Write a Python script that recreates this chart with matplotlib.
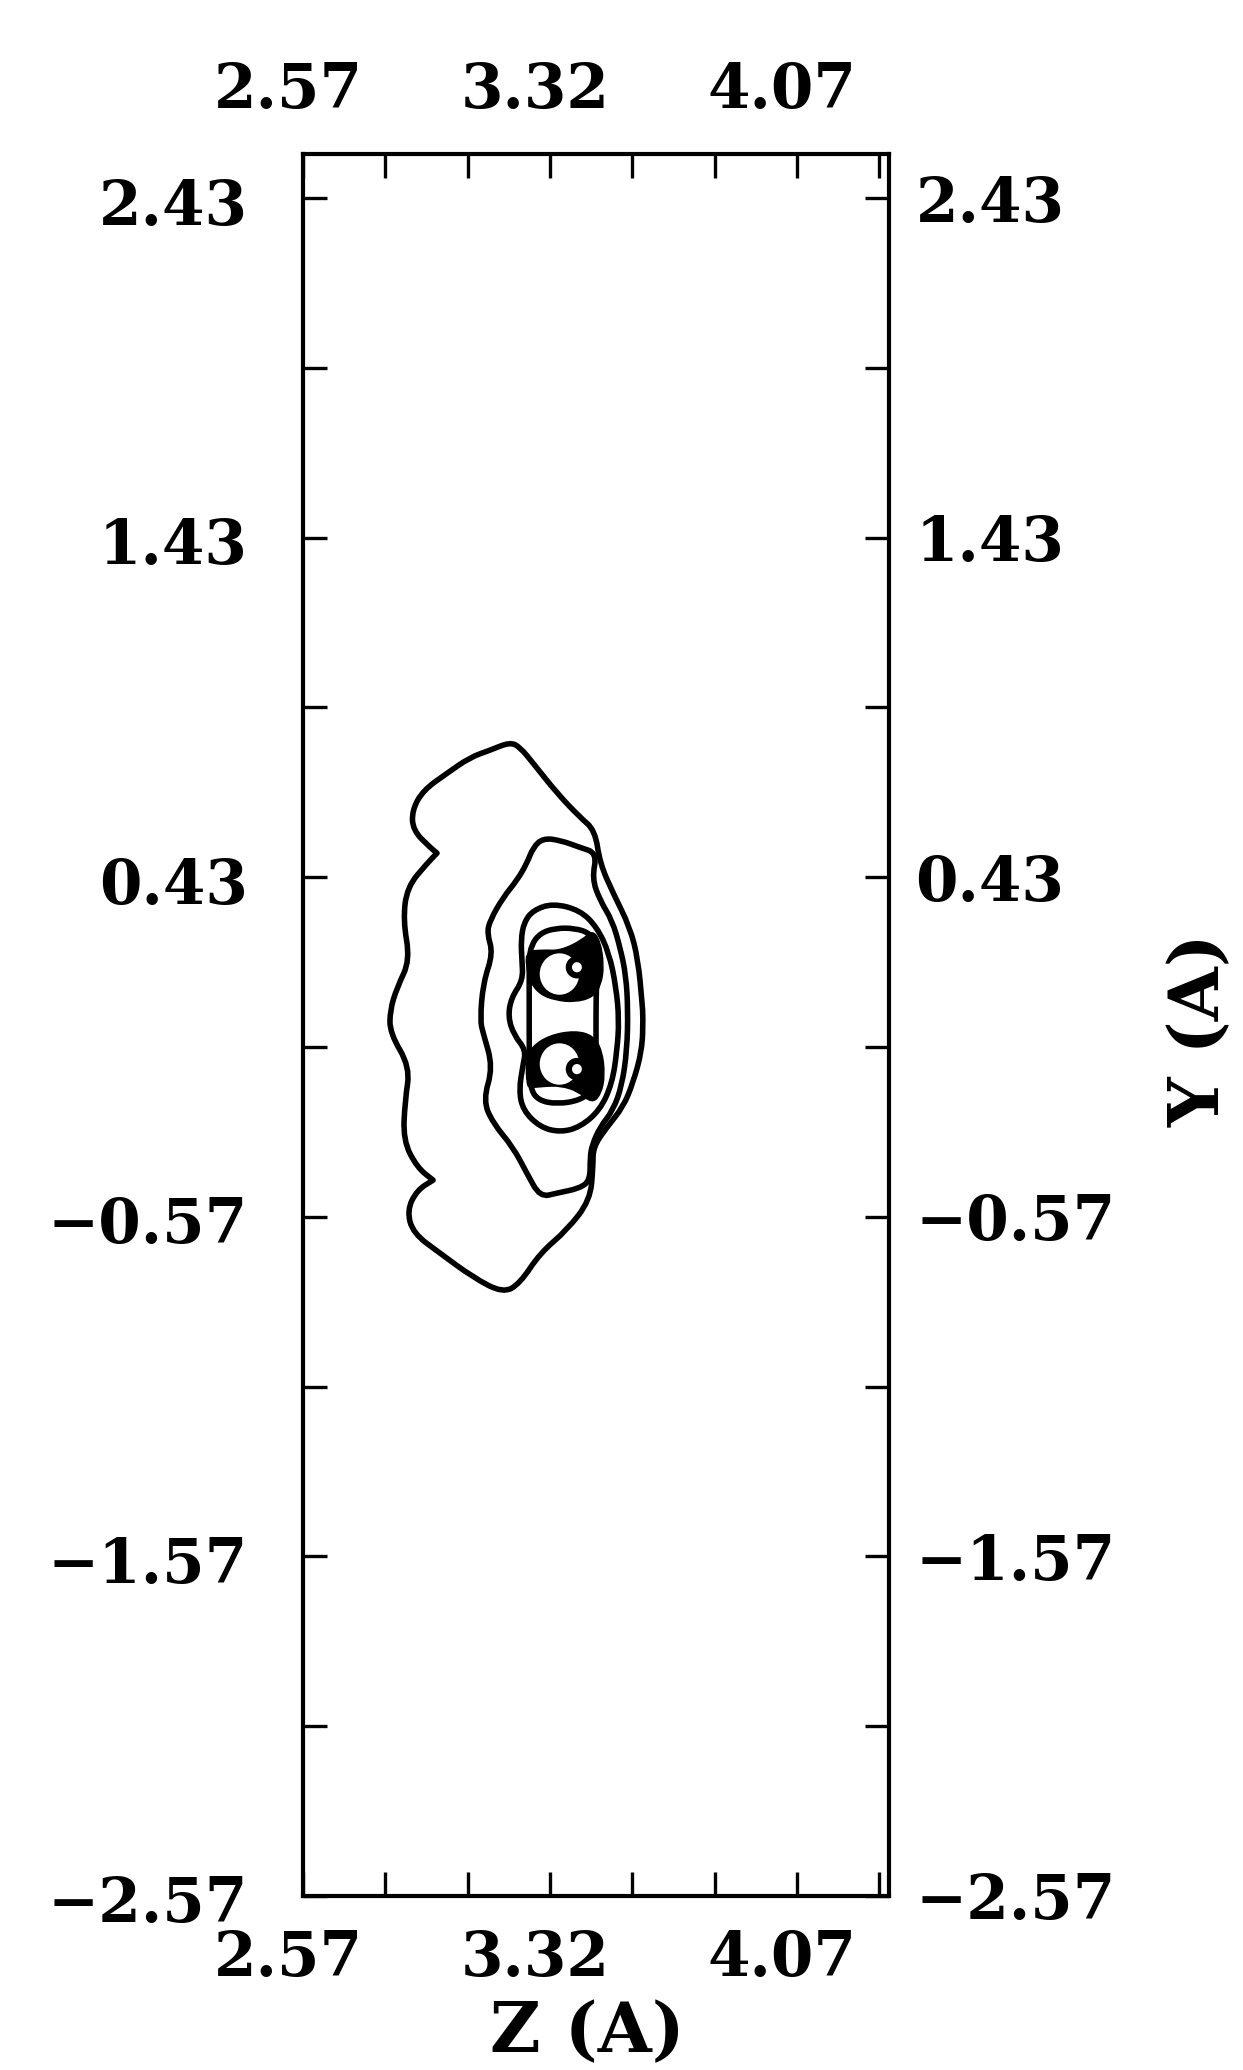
import numpy as np
import matplotlib.pyplot as plt
import matplotlib.transforms as mtrans
from matplotlib.patches import Ellipse, PathPatch
from matplotlib.path import Path
from matplotlib.ticker import FixedLocator, FixedFormatter

# contour lines, Z and Y in Angstrom
outer_z = [3.199, 3.229, 3.269, 3.342, 3.411, 3.457, 3.472, 3.512, 3.563, 3.588,
           3.600, 3.603, 3.600, 3.572, 3.542, 3.493, 3.451, 3.451, 3.442, 3.372,
           3.290, 3.229, 3.178, 3.086, 2.986, 2.904, 2.886, 2.916, 2.965, 2.916,
           2.874, 2.880, 2.895, 2.834, 2.834, 2.856, 2.895, 2.874, 2.886, 2.947,
           2.977, 2.956, 2.904, 2.901, 2.935, 3.007, 3.077, 3.138]
outer_y = [0.828, 0.813, 0.766, 0.677, 0.607, 0.568, 0.471, 0.383, 0.283, 0.186,
           0.059, 0.018, -0.079, -0.177, -0.247, -0.306, -0.365, -0.424, -0.521, -0.609,
           -0.677, -0.766, -0.795, -0.748, -0.677, -0.618, -0.551, -0.492, -0.462, -0.424,
           -0.344, -0.227, -0.129, -0.029, 0.038, 0.106, 0.186, 0.303, 0.401, 0.471,
           0.501, 0.518, 0.568, 0.627, 0.686, 0.736, 0.783, 0.804]

second_z = [3.463, 3.411, 3.351, 3.299, 3.269, 3.250, 3.220, 3.178, 3.138, 3.129,
            3.147, 3.117, 3.108, 3.117, 3.147, 3.117, 3.147, 3.208, 3.250, 3.290,
            3.342, 3.411, 3.442, 3.442, 3.448, 3.472, 3.512, 3.539, 3.554, 3.557,
            3.551, 3.533, 3.509, 3.472, 3.448]
second_y = [0.501, 0.518, 0.539, 0.545, 0.518, 0.471, 0.421, 0.371, 0.303, 0.265,
            0.206, 0.118, 0.009, -0.029, -0.129, -0.227, -0.294, -0.365, -0.442, -0.512,
            -0.500, -0.486, -0.462, -0.395, -0.359, -0.306, -0.256, -0.182, -0.079, 0.038,
            0.141, 0.224, 0.303, 0.362, 0.427]

third_z = [3.329, 3.411, 3.463, 3.500, 3.521, 3.530, 3.524, 3.509, 3.472, 3.411,
           3.351, 3.290, 3.238, 3.226, 3.238, 3.247, 3.211, 3.193, 3.202, 3.238,
           3.235, 3.232, 3.241, 3.269]
third_y = [0.353, 0.333, 0.283, 0.206, 0.106, 0.009, -0.079, -0.177, -0.256, -0.306,
           -0.321, -0.306, -0.256, -0.197, -0.124, -0.079, -0.035, 0.018, 0.074, 0.127,
           0.186, 0.245, 0.297, 0.333]

inner_z = [3.257, 3.263, 3.290, 3.336, 3.396, 3.442, 3.463, 3.463, 3.460, 3.460,
           3.460, 3.451, 3.411, 3.342, 3.284, 3.260, 3.257, 3.257]
inner_y = [0.186, 0.230, 0.265, 0.280, 0.280, 0.265, 0.230, 0.156, 0.068, -0.050,
           -0.138, -0.197, -0.227, -0.238, -0.227, -0.191, -0.109, 0.068]

# dense contour bands around the two atoms (drawn as solid black)
dark_up_z = [3.250, 3.300, 3.351, 3.418, 3.448, 3.472, 3.484, 3.475, 3.451, 3.396,
             3.336, 3.290, 3.260, 3.247]
dark_up_y = [0.212, 0.216, 0.214, 0.245, 0.274, 0.245, 0.171, 0.112, 0.077, 0.062,
             0.068, 0.085, 0.121, 0.171]
dark_lo_z = [3.250, 3.247, 3.266, 3.320, 3.396, 3.451, 3.478, 3.487, 3.475, 3.448,
             3.405, 3.351, 3.300, 3.260]
dark_lo_y = [-0.182, -0.109, -0.068, -0.035, -0.022, -0.036, -0.079, -0.153, -0.209, -0.236,
             -0.200, -0.184, -0.186, -0.190]

hole_z = [3.349, 3.349]
hole_y = [0.145, -0.120]
atom_z = [3.402, 3.402]
atom_y = [0.165, -0.135]

xticks_major = [2.57, 3.32, 4.07]
xticks_minor = [2.82, 3.07, 3.57, 3.82, 4.32]
yticks_major = [2.43, 1.43, 0.43, -0.57, -1.57, -2.57]
yticks_minor = [1.93, 0.93, -0.07, -1.07, -2.07]
xlabels = ['2.57', '3.32', '4.07']
ylabels = ['2.43', '1.43', '0.43', '\u22120.57', '\u22121.57', '\u22122.57']

plt.rcParams['font.family'] = ['DejaVu Serif']
plt.rcParams['font.weight'] = 'bold'


def smooth_loop(z, y, sharp=()):
    # closed quadratic-bezier path with the read points as control points,
    # points listed in sharp are kept as corners
    pts = np.column_stack([z, y])
    mids = (pts + np.roll(pts, -1, axis=0)) / 2
    verts = [mids[-1]]
    codes = [Path.MOVETO]
    for i, (p, m) in enumerate(zip(pts, mids)):
        verts += [p, m]
        if i in sharp:
            codes += [Path.LINETO, Path.LINETO]
        else:
            codes += [Path.CURVE3, Path.CURVE3]
    return Path(verts, codes)


fig = plt.figure(figsize=(12.43, 20.70), dpi=100)
ax = fig.add_axes([0.2438, 0.0841, 0.4714, 0.8415])
ax.set_xlim(2.57, 4.35)
ax.set_ylim(-2.57, 2.56)

lw = 4.0
for zz, yy in [(dark_up_z, dark_up_y), (dark_lo_z, dark_lo_y)]:
    ax.add_patch(PathPatch(smooth_loop(zz, yy), facecolor='black', edgecolor='black', lw=1))
ax.add_patch(PathPatch(smooth_loop(outer_z, outer_y, sharp=(28, 40)), facecolor='none',
                       edgecolor='black', lw=lw, joinstyle='round'))
for zz, yy in [(second_z, second_y), (third_z, third_y), (inner_z, inner_y)]:
    ax.add_patch(PathPatch(smooth_loop(zz, yy), facecolor='none', edgecolor='black', lw=lw,
                           joinstyle='round'))
for hz, hy in zip(hole_z, hole_y):
    ax.add_patch(Ellipse((hz, hy), 0.120, 0.122, facecolor='white', edgecolor='none'))
for az, ay in zip(atom_z, atom_y):
    ax.add_patch(Ellipse((az, ay), 0.068, 0.066, facecolor='black', edgecolor='none'))
    ax.add_patch(Ellipse((az, ay), 0.030, 0.030, facecolor='white', edgecolor='none'))

ax.xaxis.set_major_locator(FixedLocator(xticks_major))
ax.xaxis.set_major_formatter(FixedFormatter(xlabels))
ax.xaxis.set_minor_locator(FixedLocator(xticks_minor))
ax.yaxis.set_major_locator(FixedLocator(yticks_major))
ax.yaxis.set_major_formatter(FixedFormatter(ylabels))
ax.yaxis.set_minor_locator(FixedLocator(yticks_minor))

ax.tick_params(which='both', direction='in', length=17, width=2.4,
               top=True, right=True, labeltop=True, labelright=True)
ax.tick_params(axis='x', which='major', pad=24, labelsize=44)
ax.tick_params(axis='y', which='major', pad=19, labelsize=44)
for s in ax.spines.values():
    s.set_linewidth(3)

shift_x = mtrans.ScaledTranslation(-0.15, 0, fig.dpi_scale_trans)
shift_left = mtrans.ScaledTranslation(-0.29, -0.03, fig.dpi_scale_trans)
for t in ax.xaxis.get_major_ticks():
    t.label1.set_transform(t.label1.get_transform() + shift_x)
    t.label2.set_transform(t.label2.get_transform() + shift_x)
for t in ax.yaxis.get_major_ticks():
    t.label1.set_transform(t.label1.get_transform() + shift_left)

fig.text(587 / 1243, 1 - 2033 / 2070, 'Z (A)', ha='center', va='center', fontsize=50)
fig.text(1200 / 1243, 1 - 1030 / 2070, 'Y (A)', ha='center', va='center', fontsize=50,
         rotation=90)

fig.savefig('out.png', dpi=100, facecolor='white')
